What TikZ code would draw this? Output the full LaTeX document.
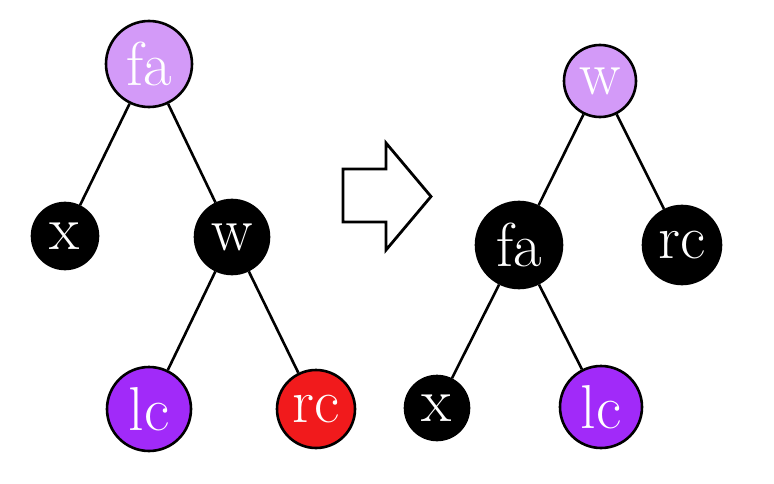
\documentclass[tikz,border=0pt]{standalone}
\usepackage{tikz}
\usetikzlibrary{positioning}
\definecolor{lilac}{HTML}{D39AF8}
\definecolor{violet}{HTML}{A12AF9}
\definecolor{redc}{HTML}{F11A1C}

\begin{document}
\begin{tikzpicture}[
  x=1pt, y=-1pt, line width=2.6pt,
  nd/.style={circle, draw=black, line width=2.6pt, inner sep=0pt, text=white, font=\fontsize{62}{64}\selectfont},
  blk/.style={nd, fill=black},
  top/.style={nd, fill=lilac},
  son/.style={nd, fill=violet},
  red/.style={nd, fill=redc}
]
\useasboundingbox (0,0) rectangle (774,484);

% before rotation
\node[top, minimum size=86pt] (faL) at (149,64)  {fa};
\node[blk, minimum size=66pt] (xL)  at (65,236)  {x};
\node[blk, minimum size=74pt] (wL)  at (232,237) {w};
\node[son, minimum size=84pt] (lcL) at (149,409) {lc};
\node[red, minimum size=78pt] (rcL) at (316,409) {rc};

\draw (faL) -- (xL);
\draw (faL) -- (wL);
\draw (wL) -- (lcL);
\draw (wL) -- (rcL);

% arrow
\draw[line width=2.8pt, line join=miter] (343,169) -- (386,169) -- (386,143) -- (431,196.5)
  -- (386,250) -- (386,222) -- (343,222) -- cycle;

% after rotation
\node[top, minimum size=72pt] (wR)  at (600,81)  {w};
\node[blk, minimum size=86pt] (faR) at (519,245) {fa};
\node[blk, minimum size=78pt] (rcR) at (682,245) {rc};
\node[blk, minimum size=64pt] (xR)  at (437,408) {x};
\node[son, minimum size=82pt] (lcR) at (601,407) {lc};

\draw (wR) -- (faR);
\draw (wR) -- (rcR);
\draw (faR) -- (xR);
\draw (faR) -- (lcR);
\end{tikzpicture}
\end{document}
